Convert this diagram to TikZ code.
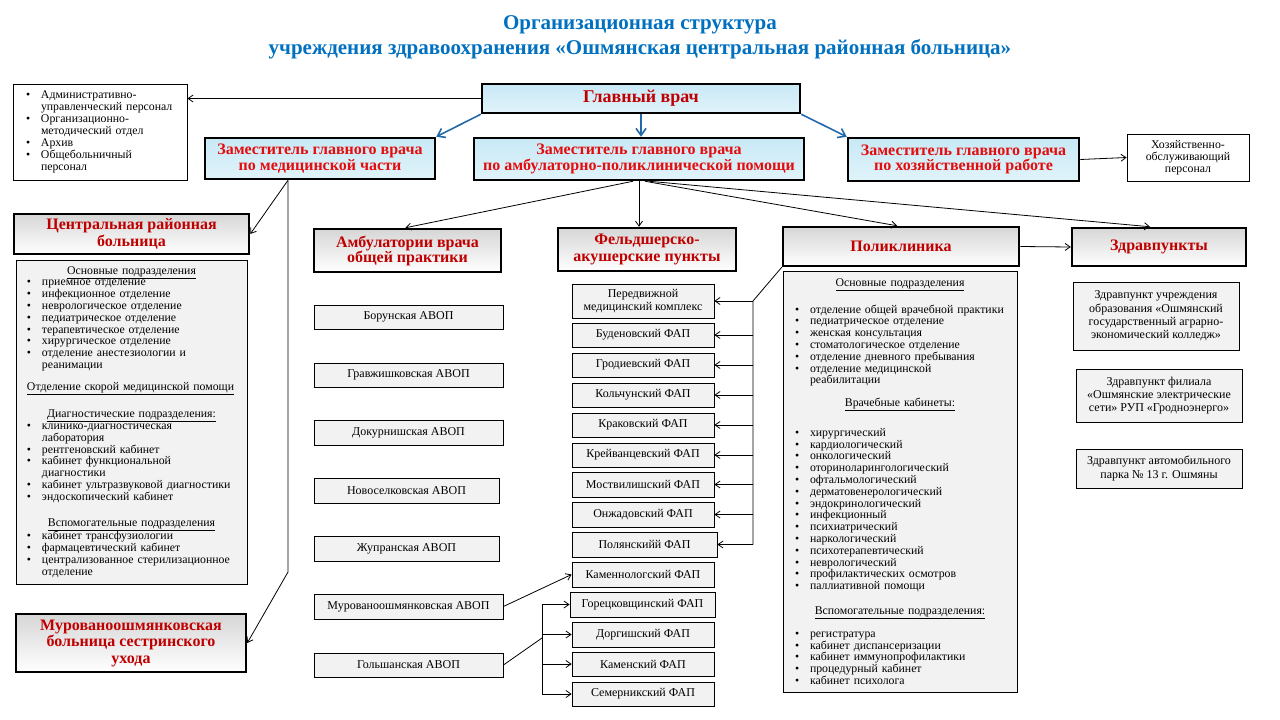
\documentclass[tikz,border=0pt]{standalone}
\usepackage{fontspec}
\setmainfont{Liberation Serif}
\usetikzlibrary{arrows.meta,shadows}

\definecolor{titleblue}{RGB}{0,112,192}
\definecolor{darkred}{RGB}{192,0,0}
\definecolor{brightred}{RGB}{228,12,12}
\definecolor{headblue}{RGB}{200,233,246}
\definecolor{itemgray}{RGB}{242,242,242}
\definecolor{linkblue}{RGB}{35,105,170}

\newcommand{\bul}{\makebox[15pt][l]{\textbullet}}
\newcommand{\ind}{\hspace*{15pt}}
\newcommand{\ctitle}[1]{\makebox[\linewidth]{\underline{#1}}}

\tikzset{
  % yscale=-1 turns the shading over, so top and bottom are swapped here
  headbox/.style={draw, line width=2.5pt, top color=headblue, bottom color=headblue!55!white,
    inner sep=0pt, align=center, text=brightred,
    font=\bfseries\fontsize{16}{15.5}\selectfont},
  unitbox/.style={draw, line width=2.5pt, top color=black!16, bottom color=white,
    inner sep=0pt, align=center, text=darkred,
    font=\bfseries\fontsize{16}{16.5}\selectfont},
  itembox/.style={draw, line width=0.8pt, fill=itemgray, inner sep=0pt, align=center,
    font=\fontsize{12}{13}\selectfont},
  listbox/.style={draw, line width=0.8pt, fill=itemgray, inner xsep=11pt, inner ysep=0pt,
    align=left, font=\fontsize{11.8}{11.8}\selectfont},
  arr/.style={-{Straight Barb[length=5pt,width=7pt]}, line width=0.8pt},
  bluearr/.style={-{Straight Barb[length=7pt,width=10pt]}, line width=1.6pt, linkblue},
}

\begin{document}
\begin{tikzpicture}[x=1pt,y=1pt,yscale=-1]
\fill[white] (0,0) rectangle (1280,720);
\useasboundingbox (0,0) rectangle (1280,720);

% Title
\node[font=\bfseries\fontsize{21}{25}\selectfont, text=titleblue, align=center] (title) at (640,37)
  {Организационная структура\\учреждения здравоохранения «Ошмянская центральная районная больница»};

% Head
\node[headbox, minimum width=318pt, minimum height=29pt, text=darkred,
  font=\bfseries\fontsize{18}{18}\selectfont] (chief) at (641,98.5) {Главный врач};
\node[headbox, minimum width=230pt, minimum height=41pt] (depMed) at (320,158.5)
  {Заместитель главного врача\\по медицинской части};
\node[headbox, minimum width=330pt, minimum height=42pt] (depAmb) at (639,159)
  {Заместитель главного врача\\по амбулаторно-поликлинической помощи};
\node[headbox, minimum width=231pt, minimum height=43pt] (depEco) at (963.5,159.5)
  {Заместитель главного врача\\по хозяйственной работе};

% Text Node
\node[draw, line width=0.8pt, fill=white, inner sep=0pt, align=center, minimum width=122pt,
  minimum height=47pt, font=\fontsize{11.8}{12}\selectfont] (eco) at (1188,157.5)
  {Хозяйственно-\\обслуживающий\\персонал};
% Text Node
\node[listbox, fill=white, inner xsep=13pt, text width=148pt, minimum height=96pt,
  font=\fontsize{11.8}{12}\selectfont] (admin) at (100,132)
  {\bul Административно-\\\ind управленческий персонал\\\bul Организационно-\\\ind методический отдел\\\bul Архив\\\bul Общебольничный\\\ind персонал};

% Central hospital
\node[unitbox, minimum width=235pt, minimum height=40pt] (crb) at (131.5,234)
  {Центральная районная\\больница};
\node[listbox, text width=209pt, minimum height=324pt] (crbList) at (131.5,422)
  {\ctitle{Основные подразделения}\\
   \bul приемное отделение\\
   \bul инфекционное отделение\\
   \bul неврологическое отделение\\
   \bul педиатрическое отделение\\
   \bul терапевтическое отделение\\
   \bul хирургическое отделение\\
   \bul отделение анестезиологии и\\
   \ind реанимации\\[10pt]
   \underline{Отделение скорой медицинской помощи}\\[14pt]
   \ctitle{Диагностические подразделения:}\\
   \bul клинико-диагностическая\\
   \ind лаборатория\\
   \bul рентгеновский кабинет\\
   \bul кабинет функциональной\\
   \ind диагностики\\
   \bul кабинет ультразвуковой диагностики\\
   \bul эндоскопический кабинет\\[14pt]
   \ctitle{Вспомогательные подразделения}\\
   \bul кабинет трансфузиологии\\
   \bul фармацевтический кабинет\\
   \bul централизованное стерилизационное\\
   \ind отделение};
\node[unitbox, minimum width=230pt, minimum height=58pt] (nursing) at (131,643)
  {Мурованоошмянковская\\больница сестринского\\ухода};

% AVOP
\node[unitbox, minimum width=187pt, minimum height=43pt,
  font=\bfseries\fontsize{16}{15}\selectfont] (avop) at (407.5,250.5)
  {Амбулатории врача\\общей практики};
\node[itembox, minimum width=189pt, minimum height=24pt] (avop1) at (408.5,317) {Борунская АВОП};
\node[itembox, minimum width=189pt, minimum height=24pt] (avop2) at (408.5,375) {Гравжишковская АВОП};
\node[itembox, minimum width=189pt, minimum height=25pt] (avop3) at (408.5,433) {Докурнишская АВОП};
\node[itembox, minimum width=185pt, minimum height=25pt] (avop4) at (406.5,490.5) {Новоселковская АВОП};
\node[itembox, minimum width=185pt, minimum height=25pt] (avop5) at (406.5,548.5) {Жупранская АВОП};
\node[itembox, minimum width=189pt, minimum height=25pt] (avop6) at (408.5,606.5) {Мурованоошмянковская АВОП};
\node[itembox, minimum width=189pt, minimum height=24pt] (avop7) at (408.5,665) {Гольшанская АВОП};

% FAP
\node[unitbox, minimum width=178pt, minimum height=43pt] (fap) at (647,249.5)
  {Фельдшерско-\\акушерские пункты};
\node[itembox, minimum width=142pt, minimum height=34pt] (fapMob) at (643,301) {Передвижной\\медицинский комплекс};
\node[itembox, minimum width=142pt, minimum height=24pt] (fap1) at (643,335) {Буденовский ФАП};
\node[itembox, minimum width=142pt, minimum height=24pt] (fap2) at (643,365) {Гродиевский ФАП};
\node[itembox, minimum width=142pt, minimum height=24pt] (fap3) at (643,395) {Кольчунский ФАП};
\node[itembox, minimum width=142pt, minimum height=24pt] (fap4) at (643,425) {Краковский ФАП};
\node[itembox, minimum width=142pt, minimum height=24pt] (fap5) at (643,455) {Крейванцевский ФАП};
\node[itembox, minimum width=142pt, minimum height=25pt] (fap6) at (643,484.5) {Моствилишский ФАП};
\node[itembox, minimum width=142pt, minimum height=25pt] (fap7) at (643,514.5) {Онжадовский ФАП};
\node[itembox, minimum width=145pt, minimum height=25pt] (fap8) at (644.5,544.5) {Полянскийй ФАП};
\node[itembox, minimum width=142pt, minimum height=25pt] (fap9) at (643,574.5) {Каменнологский ФАП};
\node[itembox, minimum width=145pt, minimum height=25pt] (fap10) at (642.5,604.5) {Горецковщинский ФАП};
\node[itembox, minimum width=142pt, minimum height=25pt] (fap11) at (643,634.5) {Доргишский ФАП};
\node[itembox, minimum width=142pt, minimum height=24pt] (fap12) at (643,664) {Каменский ФАП};
\node[itembox, minimum width=142pt, minimum height=24pt] (fap13) at (643,694) {Семерникский ФАП};

% Polyclinic
\node[unitbox, minimum width=236pt, minimum height=39pt] (poly) at (901,246.5) {Поликлиника};
\node[listbox, inner xsep=12pt, text width=210pt, minimum height=421pt] (polyList) at (900,481.5)
  {\ctitle{Основные подразделения}\\[13pt]
   \bul отделение общей врачебной практики\\
   \bul педиатрическое отделение\\
   \bul женская консультация\\
   \bul стоматологическое отделение\\
   \bul отделение дневного пребывания\\
   \bul отделение медицинской\\
   \ind реабилитации\\[11pt]
   \ctitle{Врачебные кабинеты:}\\[16pt]
   \bul хирургический\\
   \bul кардиологический\\
   \bul онкологический\\
   \bul оториноларингологический\\
   \bul офтальмологический\\
   \bul дерматовенерологический\\
   \bul эндокринологический\\
   \bul инфекционный\\
   \bul психиатрический\\
   \bul наркологический\\
   \bul психотерапевтический\\
   \bul неврологический\\
   \bul профилактических осмотров\\
   \bul паллиативной помощи\\[13pt]
   \ctitle{Вспомогательные подразделения:}\\[11pt]
   \bul регистратура\\
   \bul кабинет диспансеризации\\
   \bul кабинет иммунопрофилактики\\
   \bul процедурный кабинет\\
   \bul кабинет психолога};

% Health posts
\node[unitbox, minimum width=174pt, minimum height=38pt] (zdrav) at (1159,247) {Здравпункты};
\node[itembox, minimum width=166pt, minimum height=68pt, font=\fontsize{12}{13.3}\selectfont] (zdrav1) at (1156,316)
  {Здравпункт учреждения\\образования «Ошмянский\\государственный аграрно-\\экономический колледж»};
\node[itembox, minimum width=166pt, minimum height=53pt, font=\fontsize{12}{13.3}\selectfont] (zdrav2) at (1159,395.5)
  {Здравпункт филиала\\«Ошмянские электрические\\сети» РУП «Гродноэнерго»};
\node[itembox, minimum width=166pt, minimum height=39pt, font=\fontsize{12}{13.3}\selectfont] (zdrav3) at (1159,468.5)
  {Здравпункт автомобильного\\парка № 13 г. Ошмяны};

%Straight Lines
\draw[arr] (chief.west) -- (chief.west -| admin.east);
\draw[bluearr] (chief.south west) -- (depMed.north east);
\draw[bluearr] (chief.south) -- (chief.south |- depAmb.north);
\draw[bluearr] (chief.south east) -- (depEco.north west);
\draw[arr] (depEco.east) -- (eco.west);
%Straight Lines
\draw[arr] ([xshift=-6pt]depAmb.south) -- ([xshift=-2pt]avop.north);
\draw[arr] (depAmb.south) -- (depAmb.south |- fap.north);
\draw[arr] ([xshift=6pt]depAmb.south) -- ([xshift=-4pt]poly.north);
\draw[arr] ([xshift=10pt]depAmb.south) -- ([xshift=-9pt]zdrav.north);
%Straight Lines
\coordinate (medTop) at ([xshift=-32pt]depMed.south);
\coordinate (medBot) at (288,572);
\draw[arr] (medTop) -- (crb.east);
\draw[arr] (medTop) -- (medBot) -- (nursing.east);
%Straight Lines
\draw[arr] (poly.east) -- (zdrav.west);
\coordinate (fapBus) at (753,301);
\draw[line width=0.8pt] (poly.south west) -- (fapBus) -- (fapBus |- fap8.east);
\draw[arr] (fapBus) -- (fapMob.east);
\draw[arr] (fapBus |- fap1.east) -- (fap1.east);
\draw[arr] (fapBus |- fap2.east) -- (fap2.east);
\draw[arr] (fapBus |- fap3.east) -- (fap3.east);
\draw[arr] (fapBus |- fap4.east) -- (fap4.east);
\draw[arr] (fapBus |- fap5.east) -- (fap5.east);
\draw[arr] (fapBus |- fap6.east) -- (fap6.east);
\draw[arr] (fapBus |- fap7.east) -- (fap7.east);
\draw[arr] (fapBus |- fap8.east) -- (fap8.east);
%Straight Lines
\draw[arr] (avop6.east) -- (fap9.west);
\coordinate (golBus) at (542,638);
\draw[line width=0.8pt] (avop7.east) -- (golBus);
\draw[line width=0.8pt] (golBus |- fap10.west) -- (golBus |- fap13.west);
\draw[arr] (golBus |- fap10.west) -- (fap10.west);
\draw[arr] (golBus |- fap11.west) -- (fap11.west);
\draw[arr] (golBus |- fap12.west) -- (fap12.west);
\draw[arr] (golBus |- fap13.west) -- (fap13.west);

\end{tikzpicture}
\end{document}
